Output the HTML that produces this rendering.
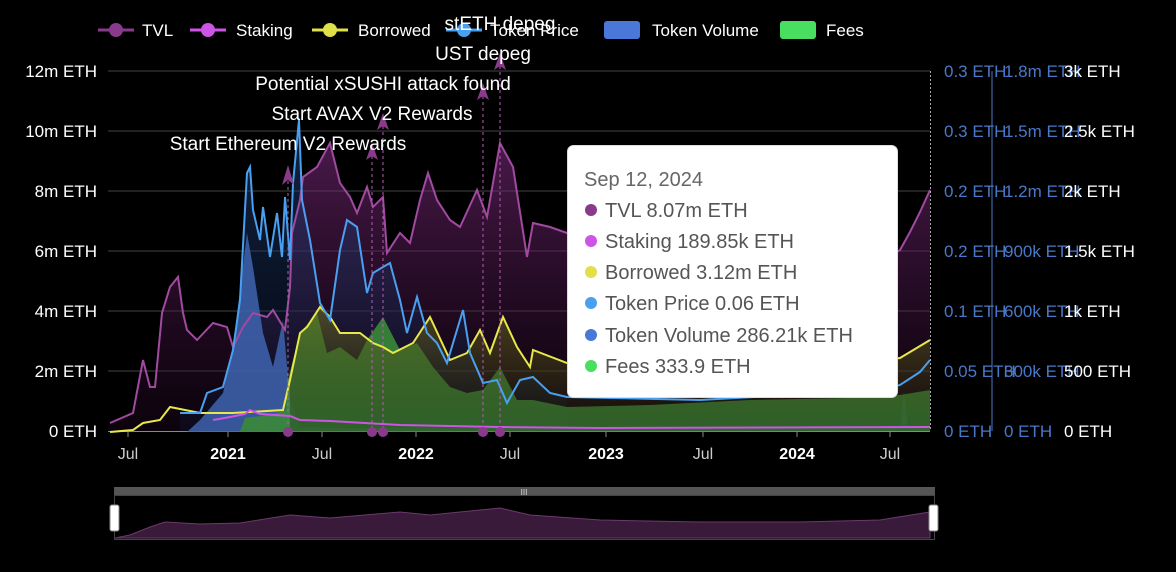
<!DOCTYPE html>
<html><head><meta charset="utf-8"><style>
body{margin:0;background:#000;width:1176px;height:567px;overflow:hidden;font-family:"Liberation Sans",sans-serif}
</style></head><body>
<svg width="1176" height="567" xmlns="http://www.w3.org/2000/svg" font-family="Liberation Sans, sans-serif">
<defs>
<linearGradient id="pg" x1="0" y1="0" x2="0" y2="1"><stop offset="0" stop-color="#7a2a7a" stop-opacity="0.6"/><stop offset="1" stop-color="#2a0a2a" stop-opacity="0.3"/></linearGradient>
<linearGradient id="yg" x1="0" y1="0" x2="0" y2="1"><stop offset="0" stop-color="#6a6a20" stop-opacity="0.6"/><stop offset="1" stop-color="#202008" stop-opacity="0.3"/></linearGradient>
<linearGradient id="bg" x1="0" y1="0" x2="0" y2="1"><stop offset="0" stop-color="#2a4a8a" stop-opacity="0.5"/><stop offset="1" stop-color="#0a1a3a" stop-opacity="0.3"/></linearGradient>
</defs>
<g stroke="#444" stroke-width="1">
<line x1="108" y1="71" x2="930" y2="71"/><line x1="108" y1="131" x2="930" y2="131"/><line x1="108" y1="191" x2="930" y2="191"/><line x1="108" y1="251" x2="930" y2="251"/><line x1="108" y1="311" x2="930" y2="311"/><line x1="108" y1="371" x2="930" y2="371"/>
</g>
<line x1="108" y1="431.5" x2="930" y2="431.5" stroke="#888"/>
<!-- TVL area -->
<polygon fill="url(#pg)" points="108,431 110,423 133,413 143,360 150,387 155,387 162,313 170,287 178,277 183,313 187,330 197,340 213,323 227,327 233,347 243,327 253,313 267,317 273,310 285,330 290,287 292,233 300,200 303,177 317,167 330,143 340,183 350,197 357,213 367,187 373,207 383,197 387,253 400,233 410,243 420,200 428,173 437,200 450,220 460,227 477,190 487,217 500,143 513,167 527,257 533,223 550,227 567,233 620,245 700,250 800,255 880,262 900,250 910,232 920,212 930,190 930,431"/>
<!-- token price area -->
<polygon fill="url(#bg)" points="180,431 180,413 200,413 207,393 223,387 233,350 240,300 247,173 250,167 253,210 260,240 263,207 270,257 277,213 282,257 285,197 290,260 293,183 299,120 302,200 310,240 320,303 330,320 340,250 347,220 357,227 367,293 373,273 383,267 390,263 400,300 407,333 417,297 427,333 437,343 447,363 463,310 470,353 483,383 497,380 507,403 520,380 533,377 550,393 567,397 567,431"/>
<!-- token volume -->
<polygon fill="#3f64b0" opacity="0.85" points="187,432 200,420 223,393 233,347 247,233 253,267 263,333 273,367 283,320 290,400 300,427 340,428 500,428 900,428 904,392 908,428 930,425 930,431"/>
<!-- fees green -->
<polygon fill="#3a8a3a" opacity="0.9" points="240,431 245,418 270,415 286,410 287,383 300,333 317,313 327,353 340,347 357,360 367,340 383,317 400,350 417,343 433,367 450,387 467,393 483,390 500,367 517,400 533,400 567,407 650,405 750,400 850,398 900,395 930,390 930,431"/>
<!-- borrowed area -->
<polygon fill="url(#yg)" points="290,431 290,380 300,333 307,327 320,307 330,317 340,333 360,333 373,343 383,347 393,353 413,343 430,317 450,360 467,353 480,330 490,353 503,317 517,347 530,367 533,350 567,363 700,368 850,365 900,358 930,340 930,431"/>
<!-- lines -->
<polyline fill="none" stroke="#a04aa0" stroke-width="2" points="110,423 133,413 143,360 150,387 155,387 162,313 170,287 178,277 183,313 187,330 197,340 213,323 227,327 233,347 243,327 253,313 267,317 273,310 285,330 290,287 292,233 300,200 303,177 317,167 330,143 340,183 350,197 357,213 367,187 373,207 383,197 387,253 400,233 410,243 420,200 428,173 437,200 450,220 460,227 477,190 487,217 500,143 513,167 527,257 533,223 550,227 567,233 620,245 700,250 800,255 880,262 900,250 910,232 920,212 930,190"/>
<polyline fill="none" stroke="#e8e84a" stroke-width="2" points="110,432 133,430 143,423 160,420 170,407 200,413 233,413 283,410 290,380 300,333 307,327 320,307 330,317 340,333 360,333 373,343 383,347 393,353 413,343 430,317 450,360 467,353 480,330 490,353 503,317 517,347 530,367 533,350 567,363 700,368 850,365 900,358 930,340"/>
<polyline fill="none" stroke="#4aa0f0" stroke-width="2" points="180,413 200,413 207,393 223,387 233,350 240,300 247,173 250,167 253,210 260,240 263,207 270,257 277,213 282,257 285,197 290,260 293,183 299,120 302,200 310,240 320,303 330,320 340,250 347,220 357,227 367,293 373,273 383,267 390,263 400,300 407,333 417,297 427,333 437,343 447,363 463,310 470,353 483,383 497,380 507,403 520,380 533,377 550,393 567,397 700,400 880,390 900,385 920,372 930,360"/>
<polyline fill="none" stroke="#cc55e6" stroke-width="2" points="213,420 230,417 245,414 250,410 260,414 290,416 300,420 330,421 400,425 500,427 600,428 930,427"/>
<!-- events -->
<g stroke="#b060b0" stroke-dasharray="3,3" stroke-width="1">
<line x1="288" y1="175" x2="288" y2="432"/><line x1="372" y1="150" x2="372" y2="432"/><line x1="383" y1="120" x2="383" y2="432"/><line x1="483" y1="90" x2="483" y2="432"/><line x1="500" y1="60" x2="500" y2="432"/>
</g>
<g fill="#8a3a8a">
<polygon points="288,165 282,185 288,180 294,185"/><polygon points="372,143 366,160 372,156 378,160"/><polygon points="383,113 377,130 383,126 389,130"/><polygon points="483,83 477,100 483,96 489,100"/><polygon points="500,53 494,70 500,66 506,70"/>
<circle cx="288" cy="432" r="5"/><circle cx="372" cy="432" r="5"/><circle cx="383" cy="432" r="5"/><circle cx="483" cy="432" r="5"/><circle cx="500" cy="432" r="5"/></g>
<g fill="#fff" font-size="19" text-anchor="middle">
<text x="288" y="150">Start Ethereum V2 Rewards</text>
<text x="372" y="120">Start AVAX V2 Rewards</text>
<text x="383" y="90">Potential xSUSHI attack found</text>
<text x="483" y="60">UST depeg</text>
</g>
<line x1="930.5" y1="71" x2="930.5" y2="431" stroke="#aaa" stroke-dasharray="2,2"/>
<line x1="992" y1="71" x2="992" y2="431" stroke="#4a78c8"/>
<!-- legend -->
<g font-size="17" fill="#fff">
<line x1="98" y1="30" x2="134" y2="30" stroke="#8a3a8a" stroke-width="3"/><circle cx="116" cy="30" r="7" fill="#8a3a8a"/><text x="142" y="36">TVL</text>
<line x1="190" y1="30" x2="226" y2="30" stroke="#cc55e6" stroke-width="3"/><circle cx="208" cy="30" r="7" fill="#cc55e6"/><text x="236" y="36">Staking</text>
<line x1="312" y1="30" x2="348" y2="30" stroke="#e0e04a" stroke-width="3"/><circle cx="330" cy="30" r="7" fill="#e0e04a"/><text x="358" y="36">Borrowed</text>
<line x1="446" y1="30" x2="482" y2="30" stroke="#4aa0f0" stroke-width="3"/><circle cx="464" cy="30" r="7" fill="#4aa0f0"/><text x="490" y="36">Token Price</text>
<rect x="604" y="21" width="36" height="18" rx="3" fill="#4a78d8"/><text x="652" y="36">Token Volume</text>
<rect x="780" y="21" width="36" height="18" rx="3" fill="#4ade60"/><text x="826" y="36">Fees</text>
</g>
<text x="500" y="30" fill="#fff" font-size="19" text-anchor="middle">stETH depeg</text>
<g fill="#fff" font-size="17" text-anchor="end">
<text x="97" y="77">12m ETH</text><text x="97" y="137">10m ETH</text><text x="97" y="197">8m ETH</text><text x="97" y="257">6m ETH</text><text x="97" y="317">4m ETH</text><text x="97" y="377">2m ETH</text><text x="97" y="437">0 ETH</text>
</g>
<g fill="#4a78c8" font-size="17">
<text x="944" y="77">0.3 ETH</text><text x="944" y="137">0.3 ETH</text><text x="944" y="197">0.2 ETH</text><text x="944" y="257">0.2 ETH</text><text x="944" y="317">0.1 ETH</text><text x="944" y="377">0.05 ETH</text><text x="944" y="437">0 ETH</text>
<text x="1004" y="77">1.8m ETH</text><text x="1004" y="137">1.5m ETH</text><text x="1004" y="197">1.2m ETH</text><text x="1004" y="257">900k ETH</text><text x="1004" y="317">600k ETH</text><text x="1004" y="377">300k ETH</text><text x="1004" y="437">0 ETH</text>
</g>
<g fill="#fff" font-size="17">
<text x="1064" y="77">3k ETH</text><text x="1064" y="137">2.5k ETH</text><text x="1064" y="197">2k ETH</text><text x="1064" y="257">1.5k ETH</text><text x="1064" y="317">1k ETH</text><text x="1064" y="377">500 ETH</text><text x="1064" y="437">0 ETH</text>
</g>
<g stroke="#888"><line x1="128" y1="432" x2="128" y2="437"/><line x1="228" y1="432" x2="228" y2="437"/><line x1="322" y1="432" x2="322" y2="437"/><line x1="416" y1="432" x2="416" y2="437"/><line x1="510" y1="432" x2="510" y2="437"/><line x1="606" y1="432" x2="606" y2="437"/><line x1="703" y1="432" x2="703" y2="437"/><line x1="797" y1="432" x2="797" y2="437"/><line x1="890" y1="432" x2="890" y2="437"/></g>
<g fill="#ccc" font-size="16" text-anchor="middle">
<text x="128" y="459">Jul</text><text x="228" y="459" font-weight="bold" fill="#fff">2021</text><text x="322" y="459">Jul</text><text x="416" y="459" font-weight="bold" fill="#fff">2022</text><text x="510" y="459">Jul</text><text x="606" y="459" font-weight="bold" fill="#fff">2023</text><text x="703" y="459">Jul</text><text x="797" y="459" font-weight="bold" fill="#fff">2024</text><text x="890" y="459">Jul</text>
</g>
<rect x="567.5" y="145.5" width="330" height="252" rx="6" fill="#fff" stroke="#ddd"/>
<g font-size="20" fill="#555">
<text x="584" y="186" fill="#666">Sep 12, 2024</text>
<circle cx="591" cy="210" r="6" fill="#8a3a8a"/><text x="605" y="217">TVL  8.07m ETH</text>
<circle cx="591" cy="241" r="6" fill="#cc55e6"/><text x="605" y="248">Staking  189.85k ETH</text>
<circle cx="591" cy="272" r="6" fill="#e0e04a"/><text x="605" y="279">Borrowed  3.12m ETH</text>
<circle cx="591" cy="303" r="6" fill="#4aa0f0"/><text x="605" y="310">Token Price  0.06 ETH</text>
<circle cx="591" cy="335" r="6" fill="#4a78d8"/><text x="605" y="342">Token Volume  286.21k ETH</text>
<circle cx="591" cy="366" r="6" fill="#4ade60"/><text x="605" y="373">Fees  333.9 ETH</text>
</g>
<rect x="114" y="487" width="821" height="8" fill="#555"/>
<text x="524" y="495" fill="#ddd" font-size="8" text-anchor="middle">III</text>
<rect x="114.5" y="495.5" width="820" height="44" fill="none" stroke="#444"/>
<polygon fill="#3a1a3a" stroke="#6a3a6a" points="115,538 130,535 150,527 165,522 200,524 240,523 290,515 330,518 400,512 430,515 500,508 530,515 600,520 700,522 800,522 880,520 930,512 930,538"/>
<rect x="110" y="505" width="9" height="26" rx="2" fill="#fff" stroke="#888"/>
<rect x="929" y="505" width="9" height="26" rx="2" fill="#fff" stroke="#888"/>
</svg>
</body></html>
